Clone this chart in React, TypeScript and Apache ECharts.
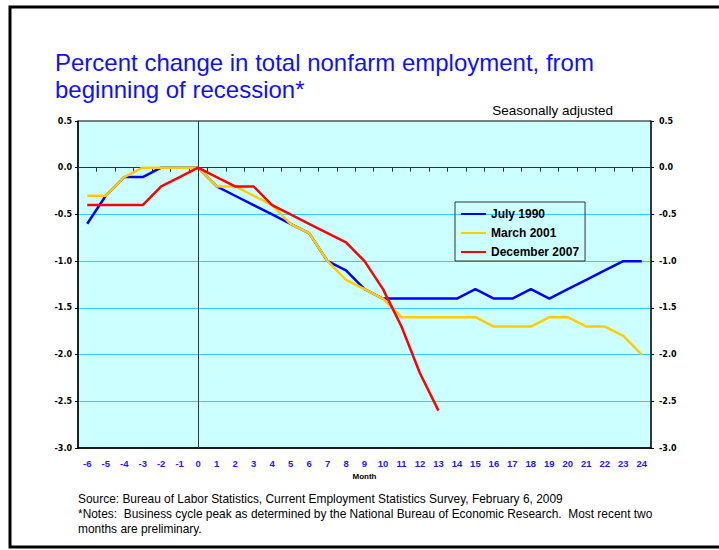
import React, { useEffect, useRef } from "react";
import * as echarts from "echarts";

const months = [-6, -5, -4, -3, -2, -1, 0, 1, 2, 3, 4, 5, 6, 7, 8, 9, 10, 11, 12, 13, 14, 15, 16, 17, 18, 19, 20, 21, 22, 23, 24];
const july1990 = [-0.6, -0.3, -0.1, -0.1, 0, 0, 0, -0.2, -0.3, -0.4, -0.5, -0.6, -0.7, -1.0, -1.1, -1.3, -1.4, -1.4, -1.4, -1.4, -1.4, -1.3, -1.4, -1.4, -1.3, -1.4, -1.3, -1.2, -1.1, -1.0, -1.0];
const march2001 = [-0.3, -0.3, -0.1, 0, 0, 0, 0, -0.2, -0.2, -0.3, -0.4, -0.6, -0.7, -1.0, -1.2, -1.3, -1.4, -1.6, -1.6, -1.6, -1.6, -1.6, -1.7, -1.7, -1.7, -1.6, -1.6, -1.7, -1.7, -1.8, -2.0];
const december2007 = [-0.4, -0.4, -0.4, -0.4, -0.2, -0.1, 0, -0.1, -0.2, -0.2, -0.4, -0.5, -0.6, -0.7, -0.8, -1.0, -1.3, -1.7, -2.2, -2.6];
const seriesNames = ["July 1990", "March 2001", "December 2007"];
const seriesColors = ["#0000FF", "#FFCC00", "#FF0000"];
const yMin = -3.0;
const yMax = 0.5;
const yStep = 0.5;
const titleText = "Percent change in total nonfarm employment, from\nbeginning of recession*";
const subText = "Seasonally adjusted";
const xName = "Month";
const notes = [
  "Source: Bureau of Labor Statistics, Current Employment Statistics Survey, February 6, 2009",
  "*Notes:  Business cycle peak as determined by the National Bureau of Economic Research.  Most recent two",
  "months are preliminary.",
];

const FONT = "'Liberation Sans', Arial, sans-serif";
const WIDE = "'DejaVu Sans', Verdana, sans-serif";
const NARROW = "'Liberation Sans Narrow', 'Arial Narrow', 'Liberation Sans', sans-serif";

export default function App() {
  const ref = useRef<HTMLDivElement>(null);
  useEffect(() => {
    if (!ref.current) return;
    const chart = echarts.init(ref.current, null, { renderer: "svg" });
    const cats = months.map(String);
    const yLabel = {
      fontSize: 8,
      fontWeight: "bold" as const,
      color: "#000",
      fontFamily: WIDE,
      formatter: (v: number) => v.toFixed(1),
    };
    const dataSets = [july1990, march2001, december2007];
    chart.setOption({
      animation: false,
      backgroundColor: "#FFFFFF",
      title: {
        text: titleText,
        left: 55,
        top: 49,
        padding: 0,
        textStyle: { color: "#1010FF", fontSize: 24, fontWeight: "normal", lineHeight: 27, fontFamily: FONT },
      },
      legend: {
        orient: "vertical",
        left: 455,
        top: 202,
        padding: [6, 6, 3, 5],
        itemGap: 7,
        itemWidth: 25,
        itemHeight: 14,
        borderColor: "#333",
        borderWidth: 1,
        data: seriesNames,
        itemStyle: { opacity: 0, color: "transparent", borderWidth: 0 },
        textStyle: { fontWeight: "bold", fontSize: 12, color: "#000", fontFamily: FONT },
      },
      grid: {
        left: 78,
        top: 121,
        width: 573,
        height: 327,
        show: true,
        backgroundColor: "#CCFFFF",
        borderColor: "#000",
        borderWidth: 1,
        outerBoundsMode: "none",
        containLabel: false,
      },
      xAxis: [
        {
          type: "category",
          data: cats,
          position: "bottom",
          boundaryGap: true,
          axisLine: { onZero: false, lineStyle: { color: "#000", width: 1.5 } },
          axisTick: { show: false },
          axisLabel: { interval: 0, color: "#1a1aff", fontWeight: "bold", fontSize: 9.5, margin: 10, fontFamily: FONT },
          splitLine: { show: false },
          name: xName,
          nameLocation: "middle",
          nameGap: 23,
          nameTextStyle: { fontSize: 8, fontWeight: "bold", color: "#000", fontFamily: FONT },
        },
        {
          type: "category",
          data: cats,
          position: "bottom",
          boundaryGap: true,
          axisLine: { show: true, onZero: true, onZeroAxisIndex: 0, lineStyle: { color: "#333", width: 1 } },
          axisTick: { show: true, length: 4, lineStyle: { color: "#333" } },
          axisLabel: { show: false },
          splitLine: { show: false },
        },
      ],
      yAxis: [
        {
          type: "value",
          position: "left",
          min: yMin,
          max: yMax,
          interval: yStep,
          axisLine: { show: true, lineStyle: { color: "#000", width: 1.5 } },
          axisTick: { show: true, length: 3, lineStyle: { color: "#000" } },
          axisLabel: { ...yLabel, margin: 6 },
          splitLine: { show: true, showMinLine: false, showMaxLine: false, lineStyle: { color: "#33CCFF", width: 1 } },
        },
        {
          type: "value",
          position: "right",
          min: yMin,
          max: yMax,
          interval: yStep,
          axisLine: { show: true, lineStyle: { color: "#222", width: 1.5 } },
          axisTick: { show: true, length: 3, lineStyle: { color: "#000" } },
          axisLabel: { ...yLabel, margin: 8 },
          splitLine: { show: false },
        },
      ],
      series: seriesNames.map((name, i) => ({
        name,
        type: "line",
        xAxisIndex: 0,
        yAxisIndex: 0,
        data: dataSets[i],
        symbol: "none",
        color: seriesColors[i],
        lineStyle: { color: seriesColors[i], width: 2.5 },
        z: 3 + i,
        markLine:
          i === 0
            ? {
                silent: true,
                symbol: "none",
                label: { show: false },
                lineStyle: { color: "#333", width: 1, type: "solid" },
                data: [{ xAxis: months.indexOf(0) }],
              }
            : undefined,
      })),
      graphic: [
        {
          type: "rect",
          shape: { x: 10, y: 7, width: 740, height: 540 },
          style: { fill: "none", stroke: "#000", lineWidth: 3 },
          silent: true,
          z: -1,
        },
        {
          type: "text",
          x: 613,
          y: 110,
          style: { text: subText, fontSize: 13.5, fontFamily: FONT, fill: "#000", textAlign: "right", textVerticalAlign: "middle" },
        },
        ...notes.map((t, k) => ({
          type: "text",
          x: 78,
          y: 499 + k * 15,
          scaleX: 0.917,
          style: { text: t, fontSize: 13, fontFamily: NARROW, fill: "#000", textAlign: "left", textVerticalAlign: "middle" },
        })),
      ],
    });
    return () => chart.dispose();
  }, []);
  return <div ref={ref} style={{ position: "fixed", left: 0, top: 0, width: 719, height: 550 }} />;
}
